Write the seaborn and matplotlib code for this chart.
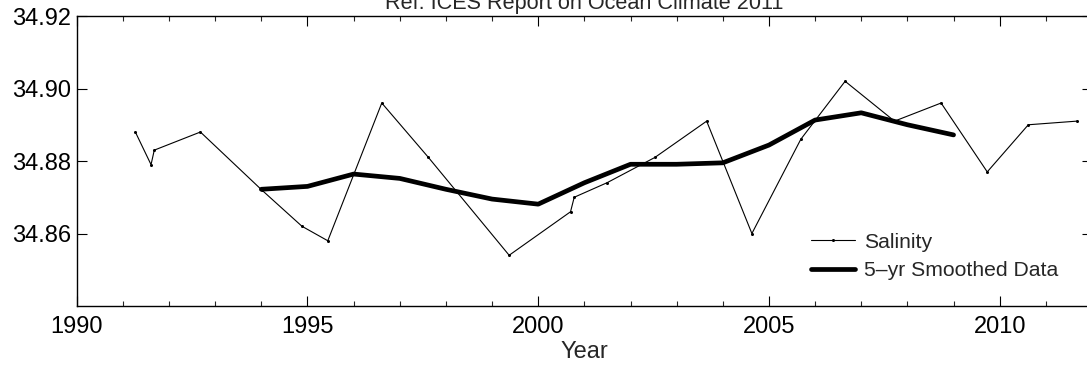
import matplotlib
matplotlib.use("Agg")
import matplotlib.pyplot as plt
from matplotlib.ticker import MultipleLocator
import seaborn as sns

sal_years = [1991.27, 1991.61, 1991.68, 1992.68, 1994.01, 1994.88, 1995.44,
             1996.61, 1997.62, 1999.37, 2000.70, 2000.78, 2001.49, 2002.53,
             2003.65, 2004.63, 2005.69, 2006.65, 2007.72, 2008.73, 2009.73,
             2010.62, 2011.67]
sal_values = [34.888, 34.879, 34.883, 34.888, 34.872, 34.862, 34.858,
              34.896, 34.881, 34.854, 34.866, 34.870, 34.874, 34.881,
              34.891, 34.860, 34.886, 34.902, 34.891, 34.896, 34.877,
              34.890, 34.891]

# 5-year smoothed series
smooth_years = [1994, 1995, 1996, 1997, 1998, 1999, 2000, 2001, 2002, 2003,
                2004, 2005, 2006, 2007, 2008, 2009]
smooth_values = [34.8722, 34.8730, 34.8764, 34.8752, 34.8722, 34.8695,
                 34.8681, 34.8740, 34.8791, 34.8791, 34.8795, 34.8844,
                 34.8913, 34.8933, 34.8900, 34.8872]

x_ticks = [1990, 1995, 2000, 2005, 2010]
y_ticks = [34.86, 34.88, 34.90, 34.92]

sns.set_style("ticks")
plt.rcParams["font.family"] = ["Liberation Sans", "DejaVu Sans"]

fig = plt.figure(figsize=(10.87, 3.69), dpi=100)
ax = fig.add_axes([0.0706, 0.1707, 1.0046 - 0.0706, 0.9566 - 0.1707])

sns.lineplot(x=sal_years, y=sal_values, ax=ax, color="black", linewidth=0.8,
             marker="o", markersize=2.2, markeredgewidth=0, label="Salinity")
sns.lineplot(x=smooth_years, y=smooth_values, ax=ax, color="black",
             linewidth=3.4, label="5\u2013yr Smoothed Data")

ax.set_xlim(1990, 2012)
ax.set_ylim(34.84, 34.92)
ax.set_xticks(x_ticks)
ax.set_yticks(y_ticks)
ax.set_yticklabels([f"{v:.2f}" for v in y_ticks])
ax.xaxis.set_minor_locator(MultipleLocator(1))

for s in ax.spines.values():
    s.set_visible(True)
    s.set_linewidth(1.0)
    s.set_color("black")

ax.tick_params(axis="both", which="major", direction="in", length=7,
               width=0.8, colors="black", labelsize=17, top=True, right=True)
ax.tick_params(axis="x", which="major", pad=7)
ax.tick_params(axis="y", which="major", pad=4)
ax.tick_params(axis="x", which="minor", direction="in", length=3.6,
               width=0.8, top=True, bottom=True)

ax.set_xlabel("Year", fontsize=17, labelpad=2)
ax.set_ylabel("")
ax.set_title("Ref. ICES Report on Ocean Climate 2011", fontsize=15.6, pad=5)

leg = ax.legend(loc="lower right", bbox_to_anchor=(0.975, 0.06), frameon=False,
                fontsize=15.2, handlelength=2.1, handletextpad=0.4,
                labelspacing=0.45, borderaxespad=0)

fig.savefig("out.png", dpi=100)
